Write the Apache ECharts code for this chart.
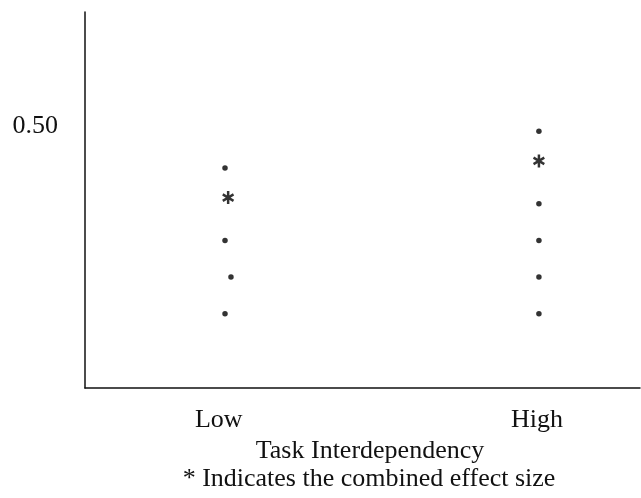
<!DOCTYPE html>
<html>
<head>
<meta charset="utf-8">
<script src="https://cdn.jsdelivr.net/npm/echarts@6/dist/echarts.min.js"></script>
<style>
html,body{margin:0;padding:0;background:#fff;}
#chart{width:641px;height:498px;}
</style>
</head>
<body>
<div id="chart"></div>
<script>
// Data
var categories = ['Low', 'High'];
var categoryPos = [1, 2];           // category index on the x axis
var labelPos = [0.98, 1.994];       // where category labels sit
var lowStudies = [0.452, 0.369, 0.327, 0.285];
var lowStudiesX = [1, 1, 1.019, 1];
var highStudies = [0.494, 0.411, 0.369, 0.327, 0.285];
var combined = [0.418, 0.460];
var yTicks = [0.5];
var yTickLabels = ['0.50'];
var xTitle = 'Task Interdependency';
var footnote = '* Indicates the combined effect size';

var font = 'Liberation Serif, Times New Roman, serif';
var asterisk = 'path://M-0.2,-1L0.2,-1L0.2,1L-0.2,1Z' +
  'M0.766,-0.673L0.966,-0.327L-0.766,0.673L-0.966,0.327Z' +
  'M-0.966,-0.327L-0.766,-0.673L0.966,0.327L0.766,0.673Z';

var studyData = [];
lowStudies.forEach(function (v, i) { studyData.push([lowStudiesX[i], v]); });
highStudies.forEach(function (v) { studyData.push([categoryPos[1], v]); });
var combinedData = combined.map(function (v, i) { return [categoryPos[i] + (i === 0 ? 0.01 : 0), v]; });

var chart = echarts.init(document.getElementById('chart'));
chart.setOption({
  animation: false,
  backgroundColor: '#fff',
  grid: { left: 85, right: 1, top: 12, bottom: 110 },
  graphic: [
    {
      type: 'text', x: 370, y: 451,
      style: { text: xTitle, font: '26px ' + font, fill: '#111', textAlign: 'center', textVerticalAlign: 'middle' }
    },
    {
      type: 'text', x: 369, y: 479,
      style: { text: footnote, font: '26px ' + font, fill: '#111', textAlign: 'center', textVerticalAlign: 'middle' }
    }
  ],
  xAxis: {
    type: 'value', min: 0.554, max: 2.322,
    axisLine: { show: true, lineStyle: { color: '#111', width: 1.5 } },
    axisTick: { show: false },
    splitLine: { show: false },
    axisLabel: {
      customValues: labelPos,
      margin: 19,
      fontFamily: font, fontSize: 26, color: '#111',
      formatter: function (v) {
        var best = 0, d = Infinity;
        labelPos.forEach(function (p, i) { if (Math.abs(p - v) < d) { d = Math.abs(p - v); best = i; } });
        return categories[best];
      }
    }
  },
  yAxis: {
    type: 'value', min: 0.2, max: 0.6305,
    axisLine: { show: true, lineStyle: { color: '#111', width: 1.5 } },
    axisTick: { show: false },
    splitLine: { show: false },
    axisLabel: {
      customValues: yTicks,
      margin: 27,
      fontFamily: font, fontSize: 26, color: '#111',
      formatter: function (v) {
        var i = yTicks.indexOf(v);
        return i >= 0 ? yTickLabels[i] : '';
      }
    }
  },
  series: [
    {
      type: 'scatter', data: studyData, symbol: 'circle', symbolSize: 5.5,
      itemStyle: { color: '#000' }
    },
    {
      type: 'scatter', data: combinedData, symbol: asterisk, symbolSize: [12, 13],
      itemStyle: { color: '#000' }
    }
  ]
});
</script>
</body>
</html>
